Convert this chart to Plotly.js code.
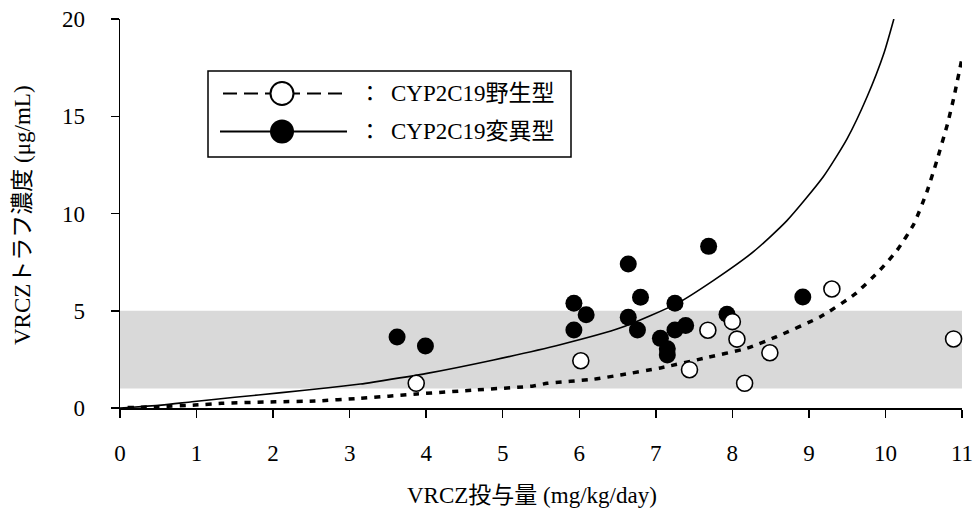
<!DOCTYPE html>
<html>
<head>
<meta charset="utf-8">
<script src="https://cdn.plot.ly/plotly-3.0.1.min.js"></script>
<style>html,body{margin:0;padding:0;background:#fff;}#chart{width:977px;height:508px;}</style>
</head>
<body>
<div id="chart"></div>
<script>
// Observed data: CYP2C19 mutant (filled circles)
const mutantDose = [3.62, 3.99, 5.93, 6.09, 5.93, 6.64, 6.80, 6.64, 6.76, 7.25, 7.06, 7.15, 7.15, 7.25, 7.39, 7.69, 7.93, 8.92];
const mutantConc = [3.65, 3.19, 5.38, 4.80, 4.01, 7.40, 5.70, 4.66, 4.01, 5.38, 3.58, 3.05, 2.72, 4.01, 4.24, 8.31, 4.82, 5.71];

// Observed data: CYP2C19 wild type (open circles)
const wildDose = [3.87, 6.02, 7.44, 7.68, 8.00, 8.06, 8.16, 8.49, 9.30, 10.89];
const wildConc = [1.27, 2.43, 1.97, 4.00, 4.44, 3.54, 1.27, 2.84, 6.12, 3.55];

// Predicted curve: mutant (solid)
const mutantCurveX = [0, 0.54, 0.94, 1.50, 2.11, 2.72, 3.14, 3.31, 4.01, 4.88, 5.75, 6.54, 7.28, 7.75, 8.28, 8.71, 9.19, 9.50, 9.76, 9.98, 10.11];
const mutantCurveY = [0, 0.15, 0.32, 0.55, 0.79, 1.04, 1.23, 1.33, 1.78, 2.47, 3.25, 4.12, 5.38, 6.55, 8.05, 9.62, 11.90, 13.85, 16.0, 18.24, 20.0];

// Predicted curve: wild type (dotted)
const wildCurveX = [0.1, 0.5, 0.98, 1.33, 2.03, 2.55, 3.14, 3.88, 4.66, 5.40, 5.58, 6.19, 6.54, 7.06, 7.62, 8.19, 8.58, 9.15, 9.60, 9.93, 10.15, 10.37, 10.54, 10.67, 10.81, 10.89, 11.0];
const wildCurveY = [0.02, 0.07, 0.15, 0.24, 0.32, 0.36, 0.50, 0.72, 0.93, 1.13, 1.27, 1.48, 1.70, 2.06, 2.55, 3.07, 3.67, 4.69, 5.85, 7.10, 8.10, 9.45, 11.1, 12.7, 14.6, 15.9, 17.98];

// Therapeutic range band and axis ticks
const targetRange = [1, 5];
const xTicks = [0, 1, 2, 3, 4, 5, 6, 7, 8, 9, 10, 11];
const yTicks = [0, 5, 10, 15, 20];

const legendLabels = ["CYP2C19野生型", "CYP2C19変異型"];
const xTitle = "VRCZ投与量 (mg/kg/day)";
const yTitle = "VRCZトラフ濃度 (μg/mL)";

const FONT = "'Liberation Serif', 'Noto Sans CJK JP', serif";

const traces = [
  {x: wildCurveX, y: wildCurveY, mode: 'lines', type: 'scatter',
   line: {color: '#000', width: 3.5, dash: '6px,7px', shape: 'spline', smoothing: 0.5}, hoverinfo: 'skip', showlegend: false},
  {x: mutantCurveX, y: mutantCurveY, mode: 'lines', type: 'scatter',
   line: {color: '#000', width: 1.6, shape: 'spline', smoothing: 0.6}, hoverinfo: 'skip', showlegend: false},
  {x: mutantDose, y: mutantConc, mode: 'markers', type: 'scatter',
   marker: {size: 17, color: '#000', line: {width: 0}}, showlegend: false, cliponaxis: false},
  {x: wildDose, y: wildConc, mode: 'markers', type: 'scatter',
   marker: {size: 16, color: '#fff', line: {width: 1.6, color: '#000'}}, showlegend: false, cliponaxis: false}
];

// pixel -> paper helpers (plot area 120..962 x 19..408)
const px = v => (v - 120) / 842;
const py = v => (408 - v) / 389;

const shapes = [
  {type: 'rect', xref: 'x', yref: 'y', x0: xTicks[0], x1: xTicks[xTicks.length - 1], y0: targetRange[0], y1: targetRange[1],
   fillcolor: '#d9d9d9', line: {width: 0}, layer: 'below'},
  // legend box
  {type: 'rect', xref: 'paper', yref: 'paper', x0: px(208), x1: px(571), y0: py(157), y1: py(71),
   line: {color: '#000', width: 1.5}, fillcolor: 'rgba(0,0,0,0)'},
  // legend row 1: dashed line + open circle
  {type: 'line', xref: 'paper', yref: 'paper', x0: px(223), x1: px(347), y0: py(93.5), y1: py(93.5),
   line: {color: '#000', width: 1.8, dash: '14px,7px'}},
  {type: 'circle', xref: 'paper', yref: 'paper', xsizemode: 'pixel', ysizemode: 'pixel',
   xanchor: px(282), yanchor: py(93.5), x0: -11.5, x1: 11.5, y0: -11.5, y1: 11.5,
   fillcolor: '#fff', line: {color: '#000', width: 2}},
  // legend row 2: solid line + filled circle
  {type: 'line', xref: 'paper', yref: 'paper', x0: px(220), x1: px(347), y0: py(131.5), y1: py(131.5),
   line: {color: '#000', width: 1.8}},
  {type: 'circle', xref: 'paper', yref: 'paper', xsizemode: 'pixel', ysizemode: 'pixel',
   xanchor: px(282), yanchor: py(131.5), x0: -12, x1: 12, y0: -12, y1: 12,
   fillcolor: '#000', line: {color: '#000', width: 0}}
];

const annotations = [
  {xref: 'paper', yref: 'paper', x: px(370), y: py(93.5), text: '：', showarrow: false, xanchor: 'center', yanchor: 'middle',
   font: {family: FONT, size: 22, color: '#000'}},
  {xref: 'paper', yref: 'paper', x: px(389), y: py(93.5), text: legendLabels[0], showarrow: false, xanchor: 'left', yanchor: 'middle',
   font: {family: FONT, size: 23, color: '#000'}},
  {xref: 'paper', yref: 'paper', x: px(370), y: py(131.5), text: '：', showarrow: false, xanchor: 'center', yanchor: 'middle',
   font: {family: FONT, size: 22, color: '#000'}},
  {xref: 'paper', yref: 'paper', x: px(389), y: py(131.5), text: legendLabels[1], showarrow: false, xanchor: 'left', yanchor: 'middle',
   font: {family: FONT, size: 23, color: '#000'}},
  // axis titles
  {xref: 'paper', yref: 'paper', x: px(532), y: py(495), text: xTitle, showarrow: false, xanchor: 'center', yanchor: 'middle',
   font: {family: FONT, size: 23, color: '#000'}},
  {xref: 'paper', yref: 'paper', x: px(22), y: py(215), text: yTitle, showarrow: false, xanchor: 'center', yanchor: 'middle',
   textangle: -90, font: {family: FONT, size: 23, color: '#000'}}
];

const layout = {
  width: 977, height: 508, autosize: false,
  margin: {l: 120, r: 15, t: 19, b: 100},
  paper_bgcolor: '#fff', plot_bgcolor: '#fff',
  showlegend: false,
  font: {family: FONT, color: '#000'},
  xaxis: {
    range: [0, 11], tickvals: xTicks, ticktext: xTicks.map(String),
    showgrid: false, zeroline: false, showline: true, linecolor: '#000', linewidth: 1.5,
    ticks: 'outside', ticklen: 8, tickwidth: 1.5, tickcolor: '#000',
    tickfont: {family: FONT, size: 23, color: '#000'}, ticklabelstandoff: 16
  },
  yaxis: {
    range: [0, 20], tickvals: yTicks, ticktext: yTicks.map(String),
    showgrid: false, zeroline: false, showline: true, linecolor: '#000', linewidth: 1.5,
    ticks: 'outside', ticklen: 8, tickwidth: 1.5, tickcolor: '#000',
    tickfont: {family: FONT, size: 23, color: '#000'}, ticklabelstandoff: 21
  },
  shapes: shapes,
  annotations: annotations
};

Plotly.newPlot('chart', traces, layout, {displayModeBar: false, staticPlot: true});
</script>
</body>
</html>
